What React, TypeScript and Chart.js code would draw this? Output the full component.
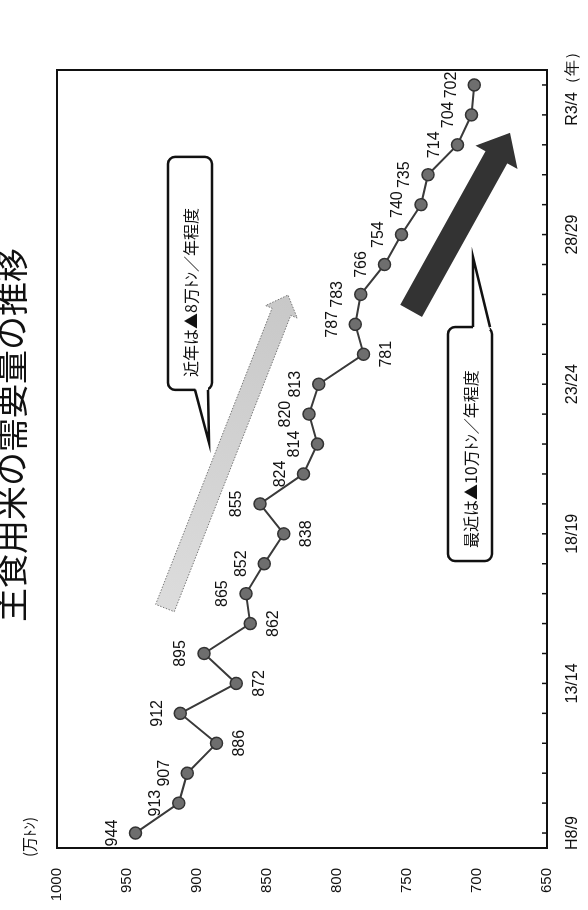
import React, { useEffect, useRef } from "react";
import { Chart, registerables } from "chart.js";

Chart.register(...registerables);

// ---- data ----
const categories = [
  "H8/9", "9/10", "10/11", "11/12", "12/13", "13/14", "14/15", "15/16", "16/17",
  "17/18", "18/19", "19/20", "20/21", "21/22", "22/23", "23/24", "24/25", "25/26",
  "26/27", "27/28", "28/29", "29/30", "30/R1", "R1/2", "R2/3", "R3/4（年）",
];
const shownTickLabels = ["H8/9", "13/14", "18/19", "23/24", "28/29", "R3/4（年）"];
const demand = [
  944, 913, 907, 886, 912, 872, 895, 862, 865, 852, 838, 855, 824,
  814, 820, 813, 781, 787, 783, 766, 754, 740, 735, 714, 704, 702,
];
const labelsBelow = [3, 5, 7, 10, 16];
const yMin = 650;
const yMax = 1000;
const yStep = 50;
const titleText = "主食用米の需要量の推移";
const unitText = "(万ﾄﾝ)";
const callout1Text = "近年は▲8万ﾄﾝ／年程度";
const callout2Text = "最近は▲10万ﾄﾝ／年程度";

const W = 910;
const H = 588;

function drawArrow(ctx, x1, y1, x2, y2, w, hw, hl) {
  const dx = x2 - x1, dy = y2 - y1;
  const len = Math.hypot(dx, dy);
  const ux = dx / len, uy = dy / len;
  const nx = -uy, ny = ux;
  const bx = x2 - ux * hl, by = y2 - uy * hl;
  ctx.beginPath();
  ctx.moveTo(x1 + nx * w / 2, y1 + ny * w / 2);
  ctx.lineTo(bx + nx * w / 2, by + ny * w / 2);
  ctx.lineTo(bx + nx * hw / 2, by + ny * hw / 2);
  ctx.lineTo(x2, y2);
  ctx.lineTo(bx - nx * hw / 2, by - ny * hw / 2);
  ctx.lineTo(bx - nx * w / 2, by - ny * w / 2);
  ctx.lineTo(x1 - nx * w / 2, y1 - ny * w / 2);
  ctx.closePath();
}

function drawCallout(ctx, bx, by, bw, bh, side, p1, p2, tx, ty, text) {
  ctx.save();
  ctx.lineWidth = 2.5;
  ctx.strokeStyle = "#111";
  ctx.fillStyle = "#fff";
  ctx.beginPath();
  ctx.roundRect(bx, by, bw, bh, 7);
  ctx.fill();
  ctx.stroke();
  const ex = side === "left" ? bx : bx + bw;
  const inset = side === "left" ? 3 : -3;
  ctx.beginPath();
  ctx.moveTo(ex + inset, by + p1);
  ctx.lineTo(tx, ty);
  ctx.lineTo(ex + inset, by + p2);
  ctx.closePath();
  ctx.fill();
  ctx.beginPath();
  ctx.moveTo(ex, by + p1);
  ctx.lineTo(tx, ty);
  ctx.lineTo(ex, by + p2);
  ctx.stroke();
  ctx.fillStyle = "#111";
  ctx.font = '16px "Noto Sans CJK JP"';
  ctx.textAlign = "left";
  ctx.textBaseline = "middle";
  ctx.fillText(text, bx + 13, by + bh / 2 + 1);
  ctx.restore();
}

const decorPlugin = {
  id: "decor",
  beforeDatasetsDraw(chart) {
    const { ctx, scales } = chart;
    const X = (i) => scales.x.getPixelForValue(i);
    const Y = (v) => scales.y.getPixelForValue(v);
    ctx.save();
    // light trend arrow
    const g1 = [X(7.52), Y(922.9), X(17.98), Y(835)];
    drawArrow(ctx, g1[0], g1[1], g1[2], g1[3], 20, 34, 18);
    const grad = ctx.createLinearGradient(g1[0], g1[1], g1[2], g1[3]);
    grad.addColorStop(0, "#dcdcdc");
    grad.addColorStop(1, "#c8c8c8");
    ctx.fillStyle = grad;
    ctx.fill();
    ctx.setLineDash([1.5, 1.5]);
    ctx.strokeStyle = "#777";
    ctx.lineWidth = 1;
    ctx.stroke();
    ctx.setLineDash([]);
    // dark trend arrow
    drawArrow(ctx, X(17.45), Y(747.1), X(23.4), Y(676.4), 25, 48, 28);
    ctx.fillStyle = "#333";
    ctx.fill();
    ctx.restore();

    // callouts
    drawCallout(ctx, X(14.81), Y(920.7), 233, 44, "left", 27, 40, X(13.04), Y(891.4), callout1Text);
    drawCallout(ctx, X(9.09), Y(720.7), 234, 44, "right", 25, 42, X(19.25), Y(702.9), callout2Text);
  },
  afterDatasetsDraw(chart) {
    const { ctx } = chart;
    const meta = chart.getDatasetMeta(0);
    ctx.save();
    ctx.fillStyle = "#111";
    ctx.font = '16px "Liberation Sans"';
    ctx.textAlign = "center";
    ctx.textBaseline = "middle";
    meta.data.forEach((pt, i) => {
      const below = labelsBelow.includes(i);
      ctx.fillText(String(demand[i]), pt.x, pt.y + (below ? 23 : -23));
    });
    ctx.restore();
  },
  afterDraw(chart) {
    const { ctx, chartArea: a, scales } = chart;
    ctx.save();
    ctx.strokeStyle = "#111";
    ctx.lineWidth = 2;
    ctx.strokeRect(a.left, a.top, a.right - a.left, a.bottom - a.top);
    ctx.lineWidth = 1.5;
    for (let i = 0; i < categories.length; i++) {
      const x = scales.x.getPixelForValue(i);
      ctx.beginPath();
      ctx.moveTo(x, a.bottom);
      ctx.lineTo(x, a.bottom - 5);
      ctx.stroke();
    }
    ctx.fillStyle = "#111";
    ctx.textAlign = "center";
    ctx.textBaseline = "middle";
    ctx.font = '34px "Noto Sans CJK JP"';
    ctx.fillText(titleText, 475, 11);
    ctx.font = '15px "Noto Sans CJK JP"';
    ctx.fillText(unitText, 73, 29);
    ctx.restore();
  },
};

export default function App() {
  const ref = useRef(null);
  useEffect(() => {
    document.body.style.margin = "0";
    document.documentElement.style.overflow = "hidden";
    const chart = new Chart(ref.current, {
      type: "line",
      data: {
        labels: categories,
        datasets: [
          {
            data: demand,
            borderColor: "#3a3a3a",
            borderWidth: 2,
            pointRadius: 6,
            pointBackgroundColor: "#6e6e6e",
            pointBorderColor: "#333",
            pointBorderWidth: 1.5,
            tension: 0,
          },
        ],
      },
      options: {
        responsive: false,
        animation: false,
        devicePixelRatio: 1,
        layout: { padding: { top: 57, right: 70, bottom: 0, left: 0 } },
        plugins: { legend: { display: false }, tooltip: { enabled: false }, title: { display: false } },
        scales: {
          x: {
            offset: true,
            grid: { display: false, drawTicks: false },
            border: { display: false },
            ticks: {
              autoSkip: false,
              maxRotation: 0,
              minRotation: 0,
              padding: 16,
              color: "#111",
              font: { family: "Liberation Sans", size: 16 },
              callback: (v, i) => (shownTickLabels.includes(categories[i]) ? categories[i] : ""),
            },
            afterFit: (s) => { s.height = 41; },
          },
          y: {
            min: yMin,
            max: yMax,
            grid: { display: false, drawTicks: false },
            border: { display: false },
            ticks: {
              stepSize: yStep,
              padding: 20,
              color: "#111",
              font: { family: "Liberation Sans", size: 15 },
              callback: (v) => String(v),
            },
            afterFit: (s) => { s.width = 62; },
          },
        },
      },
      plugins: [decorPlugin],
    });
    return () => chart.destroy();
  }, []);

  return (
    <div
      style={{
        position: "absolute",
        left: 0,
        top: 0,
        width: W,
        height: H,
        background: "#fff",
        transformOrigin: "0 0",
        transform: `translateY(${W}px) rotate(-90deg)`,
      }}
    >
      <canvas ref={ref} width={W} height={H} style={{ display: "block", width: W, height: H }} />
    </div>
  );
}
